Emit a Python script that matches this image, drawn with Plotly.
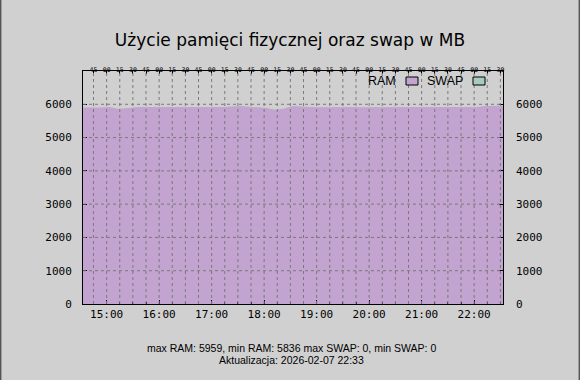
import plotly.graph_objects as go
import pandas as pd

# ---- data ----
times = pd.date_range("2026-02-07 14:33", "2026-02-07 22:33", freq="10min")
ram_mb = [5902, 5898, 5905, 5921, 5868, 5880, 5912, 5915, 5918, 5914,
          5920, 5916, 5912, 5918, 5915, 5921, 5917, 5930, 5946, 5925,
          5916, 5890, 5836, 5872, 5952, 5928, 5915, 5910, 5918, 5912,
          5915, 5920, 5914, 5911, 5917, 5913, 5916, 5919, 5912, 5915,
          5918, 5914, 5912, 5916, 5913, 5918, 5946, 5955, 5959]
swap_mb = [0] * len(ram_mb)
y_ticks = [0, 1000, 2000, 3000, 4000, 5000, 6000]
x_range = ["2026-02-07 14:33", "2026-02-07 22:33"]
minor_times = pd.date_range("2026-02-07 14:45", "2026-02-07 22:30", freq="15min")
minor_labels = [t.strftime("%M") for t in minor_times]

title = "Użycie pamięci fizycznej oraz swap w MB"
stats = "max RAM: 5959, min RAM: 5836 max SWAP: 0, min SWAP: 0"
updated = "Aktualizacja: 2026-02-07 22:33"

BG = "#d0d0d0"
RAM_C = "#c3a3cf"
SWAP_C = "#a8ccbc"
GRID_C = "#7a7a7a"
MONO = "DejaVu Sans Mono"
SANS = "Liberation Sans"

fig = go.Figure()
fig.add_trace(go.Scatter(x=times, y=ram_mb, name="RAM", mode="lines",
                         line=dict(width=0, color=RAM_C), fill="tozeroy",
                         fillcolor=RAM_C, hoverinfo="skip"))
fig.add_trace(go.Scatter(x=times, y=swap_mb, name="SWAP", mode="lines",
                         line=dict(width=0, color=SWAP_C), fill="tozeroy",
                         fillcolor=SWAP_C, hoverinfo="skip"))
# helpers so that the top and right axes are drawn
fig.add_trace(go.Scatter(x=[times[0]], y=[0], xaxis="x2", yaxis="y2",
                         mode="markers", marker=dict(opacity=0),
                         showlegend=False, hoverinfo="skip"))

# grid lines drawn above the filled area, from the tick arrays
shapes = []
for t in minor_times:
    shapes.append(dict(type="line", xref="x", yref="y domain", x0=t, x1=t,
                       y0=0, y1=1, layer="above",
                       line=dict(color=GRID_C, width=1, dash="3px,3px")))
for v in y_ticks[1:]:
    shapes.append(dict(type="line", xref="x domain", yref="y", x0=0, x1=1,
                       y0=v, y1=v, layer="above",
                       line=dict(color=GRID_C, width=1, dash="3px,3px")))
# outer image side frame
shapes.append(dict(type="line", xref="paper", yref="paper", x0=-83/420 + 0.001,
                   x1=-83/420 + 0.001, y0=-76/233, y1=1 + 71/233,
                   line=dict(color="#555555", width=2)))
shapes.append(dict(type="line", xref="paper", yref="paper", x0=1 + 77/420 - 0.001,
                   x1=1 + 77/420 - 0.001, y0=-76/233, y1=1 + 71/233,
                   line=dict(color="#555555", width=2)))
# legend swatches (text before box, as in the reference)
for x0, c in [(406, RAM_C), (473, SWAP_C)]:
    shapes.append(dict(type="rect", xref="paper", yref="paper",
                       x0=(x0 - 83) / 420, x1=(x0 + 12 - 83) / 420,
                       y0=(304 - 85) / 233, y1=(304 - 77) / 233,
                       fillcolor=c, line=dict(color="black", width=1), layer="above"))

annotations = [
    dict(text="RAM", xref="paper", yref="paper", x=(398 - 83) / 420, y=(304 - 81) / 233,
         xanchor="right", yanchor="middle", showarrow=False,
         font=dict(family=SANS, size=12.5, color="black")),
    dict(text="SWAP", xref="paper", yref="paper", x=(465 - 83) / 420, y=(304 - 81) / 233,
         xanchor="right", yanchor="middle", showarrow=False,
         font=dict(family=SANS, size=12.5, color="black")),
    dict(text=stats, xref="paper", yref="paper", x=(291 - 83) / 420, y=(304 - 348) / 233,
         xanchor="center", yanchor="middle", showarrow=False,
         font=dict(family=SANS, size=10.5, color="black")),
    dict(text=updated, xref="paper", yref="paper", x=(291 - 83) / 420, y=(304 - 360) / 233,
         xanchor="center", yanchor="middle", showarrow=False,
         font=dict(family=SANS, size=10.5, color="black")),
]

fig.update_layout(
    width=580, height=380,
    margin=dict(l=83, r=77, t=71, b=76),
    paper_bgcolor=BG, plot_bgcolor=BG,
    showlegend=False,
    title=dict(text=title, x=0.5, xanchor="center", y=1 - 40 / 380, yanchor="middle",
               font=dict(family="DejaVu Sans", size=17, color="black")),
    xaxis=dict(type="date", range=x_range, showgrid=False, zeroline=False,
               showline=True, linecolor="black", linewidth=1, mirror=True,
               ticks="inside", ticklen=4, tickcolor="black",
               tick0="2026-02-07 15:00", dtick=3600000, tickformat="%H:%M",
               minor=dict(ticks="inside", ticklen=2, dtick=900000,
                          tick0="2026-02-07 14:45", tickcolor="black", showgrid=False),
               tickfont=dict(family=MONO, size=11, color="black")),
    xaxis2=dict(type="date", range=x_range, overlaying="x", side="top",
                showgrid=False, zeroline=False, showline=False,
                tickmode="array", tickvals=list(minor_times), ticktext=minor_labels,
                ticks="inside", ticklen=3, tickcolor="black",
                ticklabelstandoff=-3,
                tickfont=dict(family=MONO, size=6.5, color="black")),
    yaxis=dict(range=[0, 7000], tickvals=y_ticks, showgrid=False, zeroline=False,
               showline=True, linecolor="black", linewidth=1, mirror=True,
               ticks="inside", ticklen=4, tickcolor="black",
               ticklabelstandoff=8,
               tickfont=dict(family=MONO, size=11, color="black")),
    yaxis2=dict(range=[0, 7000], tickvals=y_ticks, overlaying="y", side="right",
                showgrid=False, zeroline=False, showline=False,
                ticks="inside", ticklen=4, tickcolor="black",
                ticklabelstandoff=12,
                tickfont=dict(family=MONO, size=11, color="black")),
    shapes=shapes,
    annotations=annotations,
)

fig.write_html("out.html")
